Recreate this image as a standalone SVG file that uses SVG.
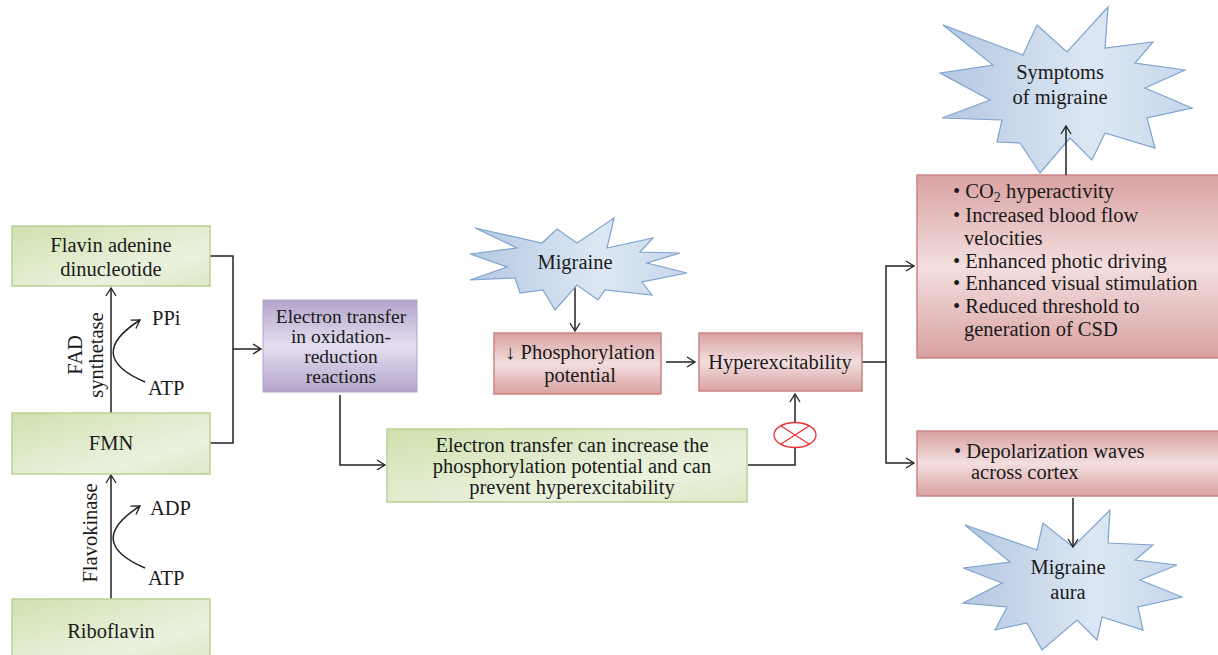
<svg xmlns="http://www.w3.org/2000/svg" width="1218" height="655" viewBox="0 0 1218 655">
<defs>
<linearGradient id="gGreen" x1="0" y1="0" x2="1" y2="1">
<stop offset="0" stop-color="#cfe1ae"/><stop offset="0.7" stop-color="#ebf2df"/><stop offset="1" stop-color="#dbe8c4"/>
</linearGradient>
<linearGradient id="gRed" x1="0" y1="0" x2="0" y2="1">
<stop offset="0" stop-color="#d9a1a1"/><stop offset="0.5" stop-color="#f3dede"/><stop offset="1" stop-color="#d9a1a1"/>
</linearGradient>
<linearGradient id="gPurple" x1="0" y1="0" x2="0" y2="1">
<stop offset="0" stop-color="#b3a4cb"/><stop offset="0.5" stop-color="#e4def0"/><stop offset="1" stop-color="#b3a4cb"/>
</linearGradient>
<linearGradient id="gBlue" x1="0" y1="0" x2="1" y2="0">
<stop offset="0" stop-color="#b4c8e2"/><stop offset="0.6" stop-color="#dce7f3"/><stop offset="1" stop-color="#c6d7eb"/>
</linearGradient>
<marker id="arr" markerWidth="12" markerHeight="12" refX="9" refY="6" orient="auto" markerUnits="userSpaceOnUse">
<path d="M1,1 L9,6 L1,11" fill="none" stroke="#222" stroke-width="1.3"/>
</marker>
<style>
.t{font-family:"Liberation Serif","DejaVu Serif",serif;font-size:20.5px;fill:#1a1a1a}
.c{text-anchor:middle}
.p{font-size:19.5px}
.green{fill:url(#gGreen);stroke:#b9d196;stroke-width:1.5}
.red{fill:url(#gRed);stroke:#cc8585;stroke-width:1.5}
.purple{fill:url(#gPurple);stroke:#b0a3c6;stroke-width:1}
.burst{fill:url(#gBlue);stroke:#7fa3cf;stroke-width:1.2}
.ln{fill:none;stroke:#222;stroke-width:1.5}
.ar{fill:none;stroke:#222;stroke-width:1.5;marker-end:url(#arr)}
</style>
</defs>
<rect width="1218" height="655" fill="#fff"/>

<g id="connectors">
<path class="ar" d="M111,413 V288"/>
<path class="ar" d="M145,382 Q84,356 140,320"/>
<path class="ar" d="M111,599 V475"/>
<path class="ar" d="M145,568 Q84,542 140,506"/>
<path class="ln" d="M210,256 H233 V443 H210"/>
<path class="ar" d="M233,349 H261"/>
<path class="ar" d="M340,395 V465 H385"/>
<path class="ar" d="M575,285 V331"/>
<path class="ar" d="M666,362 H695"/>
<path class="ln" d="M862,362 H886"/>
<path class="ar" d="M886,362 V266 H914"/>
<path class="ar" d="M886,362 V463 H914"/>
<path class="ar" d="M748,465 H795 V394"/>
</g>

<g id="inhibit">
<ellipse cx="795" cy="435" rx="21" ry="12.5" fill="#fff" stroke="#e83030" stroke-width="1.3"/>
<path d="M781,426 L809,444 M781,444 L809,426" stroke="#e83030" stroke-width="1.2"/>
</g>

<g id="fad">
<rect class="green" x="12" y="226" width="198" height="60"/>
<text class="t c" x="111" y="252">Flavin adenine</text>
<text class="t c" x="111" y="276">dinucleotide</text>
</g>
<g id="fmn">
<rect class="green" x="12" y="413" width="198" height="61"/>
<text class="t c" x="111" y="450">FMN</text>
</g>
<g id="riboflavin">
<rect class="green" x="12" y="599" width="198" height="60"/>
<text class="t c" x="111" y="638">Riboflavin</text>
</g>
<g id="fad-synthetase">
<text class="t c" transform="translate(82,355) rotate(-90)">FAD</text>
<text class="t c" transform="translate(103,355) rotate(-90)">synthetase</text>
<text class="t" x="152" y="325">PPi</text>
<text class="t" x="148" y="395">ATP</text>
</g>
<g id="flavokinase">
<text class="t c" transform="translate(97,533) rotate(-90)">Flavokinase</text>
<text class="t" x="150" y="515">ADP</text>
<text class="t" x="148" y="585">ATP</text>
</g>

<g id="electron-transfer">
<rect class="purple" x="263" y="300" width="154" height="92"/>
<text class="t c p" x="341" y="323">Electron transfer</text>
<text class="t c p" x="341" y="343">in oxidation-</text>
<text class="t c p" x="341" y="363">reduction</text>
<text class="t c p" x="341" y="383">reactions</text>
</g>

<g id="electron-increase">
<rect class="green" x="387" y="429" width="360" height="73"/>
<text class="t c" x="572" y="452">Electron transfer can increase the</text>
<text class="t c" x="572" y="473">phosphorylation potential and can</text>
<text class="t c" x="572" y="494">prevent hyperexcitability</text>
</g>

<g id="migraine">
<polygon class="burst" points="475,228 542,243 557,229 577,243 614,218 607,248 653,238 640,252 680,253 647,263 687,273 642,282 652,295 605,290 598,300 577,285 555,310 543,290 520,293 515,278 470,280 507,267 470,254 517,248"/>
<text class="t c" x="575" y="269">Migraine</text>
</g>

<g id="phosphorylation">
<rect class="red" x="494" y="333" width="167" height="61"/>
<text class="t c" x="580" y="359">↓ Phosphorylation</text>
<text class="t c" x="580" y="382">potential</text>
</g>

<g id="hyperexcitability">
<rect class="red" x="699" y="333" width="163" height="58"/>
<text class="t c" x="780" y="369">Hyperexcitability</text>
</g>

<g id="symptoms-box">
<rect class="red" x="917" y="175" width="305" height="183"/>
<text class="t" x="953" y="198">• CO<tspan font-size="14" dy="4">2</tspan><tspan dy="-4"> hyperactivity</tspan></text>
<text class="t" x="953" y="222">• Increased blood flow</text>
<text class="t" x="964" y="245">velocities</text>
<text class="t" x="953" y="268">• Enhanced photic driving</text>
<text class="t" x="953" y="290">• Enhanced visual stimulation</text>
<text class="t" x="953" y="313">• Reduced threshold to</text>
<text class="t" x="964" y="336">generation of CSD</text>
</g>

<g id="depolarization">
<rect class="red" x="917" y="431" width="305" height="65"/>
<text class="t" x="954" y="458">• Depolarization waves</text>
<text class="t" x="971" y="479">across cortex</text>
</g>

<g id="symptoms">
<polygon class="burst" points="943,25 1023,55 1037,25 1067,52 1108,7 1105,48 1153,42 1135,63 1185,70 1145,88 1192,108 1147,118 1155,148 1105,133 1092,160 1070,138 1040,173 1020,143 997,142 1002,120 942,118 990,100 940,73 993,65"/>
<text class="t c" x="1060" y="79">Symptoms</text>
<text class="t c" x="1060" y="104">of migraine</text>
</g>

<g id="aura">
<polygon class="burst" points="965,525 1037,550 1043,523 1073,547 1110,510 1108,543 1153,545 1135,560 1177,565 1140,580 1182,597 1138,607 1143,630 1102,617 1097,640 1077,620 1042,650 1027,623 995,630 1007,607 963,603 1002,583 963,568 1010,562"/>
<text class="t c" x="1068" y="574">Migraine</text>
<text class="t c" x="1068" y="599">aura</text>
</g>

<g id="connectors-top">
<path class="ar" d="M1066,175 V126"/>
<path class="ar" d="M1073,498 V547"/>
</g>
</svg>
